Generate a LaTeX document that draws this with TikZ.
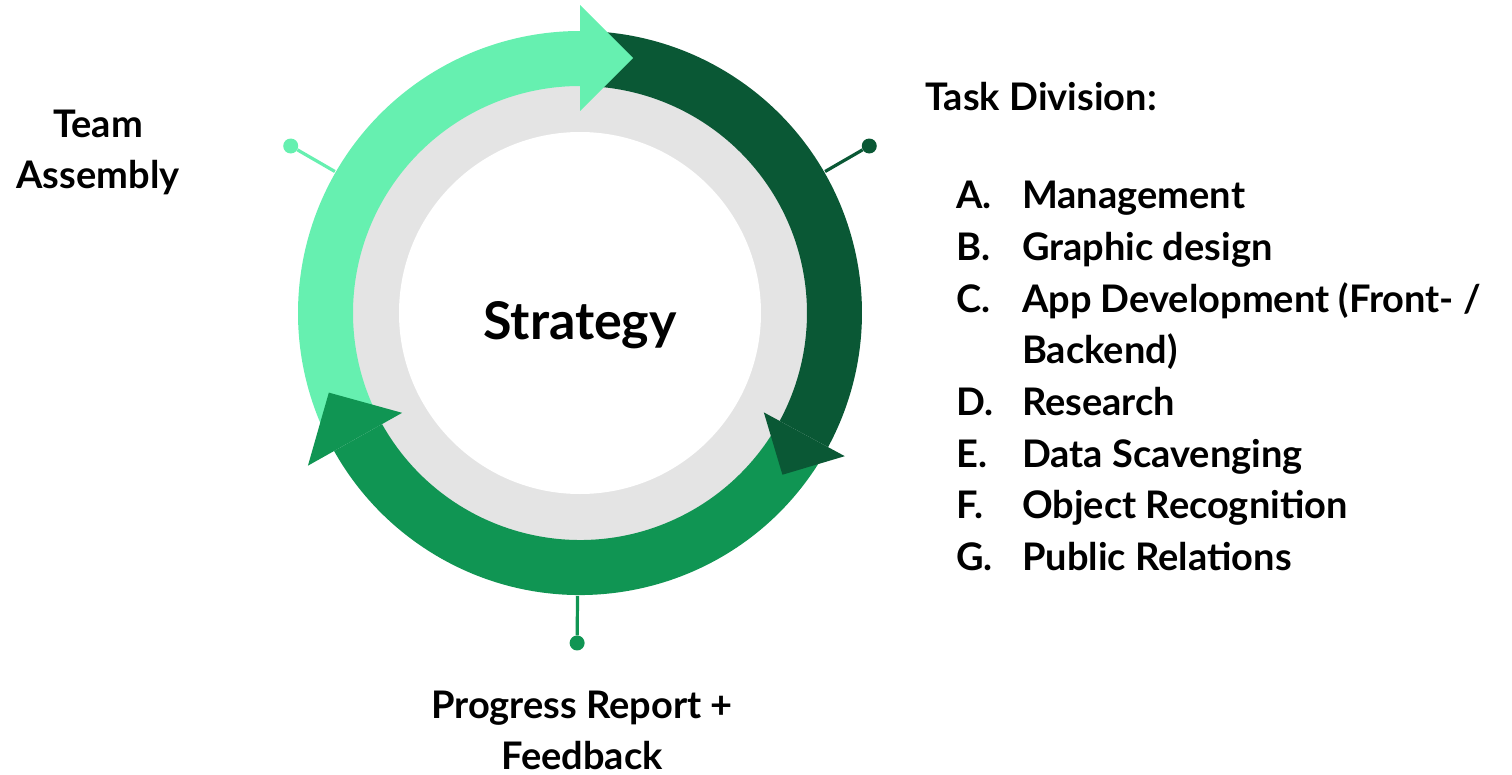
\documentclass[tikz,border=0pt]{standalone}
\usepackage{fontspec}
\setmainfont{Lato}
\usepackage{tikz}
\usetikzlibrary{calc}
\definecolor{lightgreen}{HTML}{66F0B0}
\definecolor{darkgreen}{HTML}{0A5835}
\definecolor{midgreen}{HTML}{109553}
\definecolor{ringgray}{HTML}{E4E4E4}

\begin{document}
\begin{tikzpicture}[x=1pt, y=1pt,
    pindot/.style={circle, inner sep=0pt, minimum size=15pt},
    pinline/.style={line width=3.2pt},
    label text/.style={font=\bfseries\fontsize{38}{51}\selectfont, inner sep=0pt},
    list text/.style={label text, anchor=base west}]
  \useasboundingbox (-580,-461) rectangle (932,313);
  \fill[ringgray] (0,0) circle[radius=228];
  \fill[white] (0,0) circle[radius=181];
  \fill[lightgreen] (205:282) arc[start angle=205, end angle=90, radius=282]
    -- (90:227) arc[start angle=90, end angle=205, radius=227] -- cycle;
  \fill[darkgreen] (86:282) arc[start angle=86, end angle=-28.4, radius=282]
    -- (-28.4:227) arc[start angle=-28.4, end angle=86, radius=227] -- cycle;
  \fill[midgreen] (-31:282) arc[start angle=-31, end angle=-150.7, radius=282]
    -- (-150.7:227) arc[start angle=-150.7, end angle=-31, radius=227] -- cycle;
  \fill[lightgreen] (90:308) -- ($(90:255)+(0:53)$) -- (90:202) -- cycle;
  \fill[darkgreen] (-28.4:301) -- ($(-28.4:255)+(-118.4:46)$) -- (-28.4:209) -- cycle;
  \fill[midgreen] (209.3:312) -- ($(209.3:258)+(119.3:53.5)$) -- (209.3:204) -- cycle;
  \node (strategy) at (0,-12) {\bfseries\fontsize{52}{56}\selectfont Strategy};
  \coordinate (teamring) at (150:283);
  \coordinate (taskring) at (30:283);
  \coordinate (progressring) at (-90.5:283);
  \node[pindot, fill=lightgreen] (teamdot) at (150:334) {};
  \node[pindot, fill=darkgreen] (taskdot) at (30:334) {};
  \node[pindot, fill=midgreen] (progressdot) at (-90.5:330) {};
  \draw[pinline, lightgreen] (teamring) -- (teamdot);
  \draw[pinline, darkgreen] (taskring) -- (taskdot);
  \draw[pinline, midgreen] (progressring) -- (progressdot);
  \node[label text, align=center] (team) at (-482,161) {Team\\Assembly};
  \node[label text, align=center] (progress) at (2,-417) {Progress Report +\\Feedback};
  \node[list text] (task) at (345,202) {Task Division:};
  \foreach \lbl/\txt [count=\i] in {A./Management, B./{Graphic design},
      C./{App Development (Front- /}, {}/{Backend)}, D./Research,
      E./{Data Scavenging}, F./{Object Recognition}, G./{Public Relations}} {
    \node[list text] (lbl\i) at (376,{156-51.7*\i}) {\lbl};
    \node[list text] (item\i) at (442,{156-51.7*\i}) {\txt};
  }
\end{tikzpicture}
\end{document}
